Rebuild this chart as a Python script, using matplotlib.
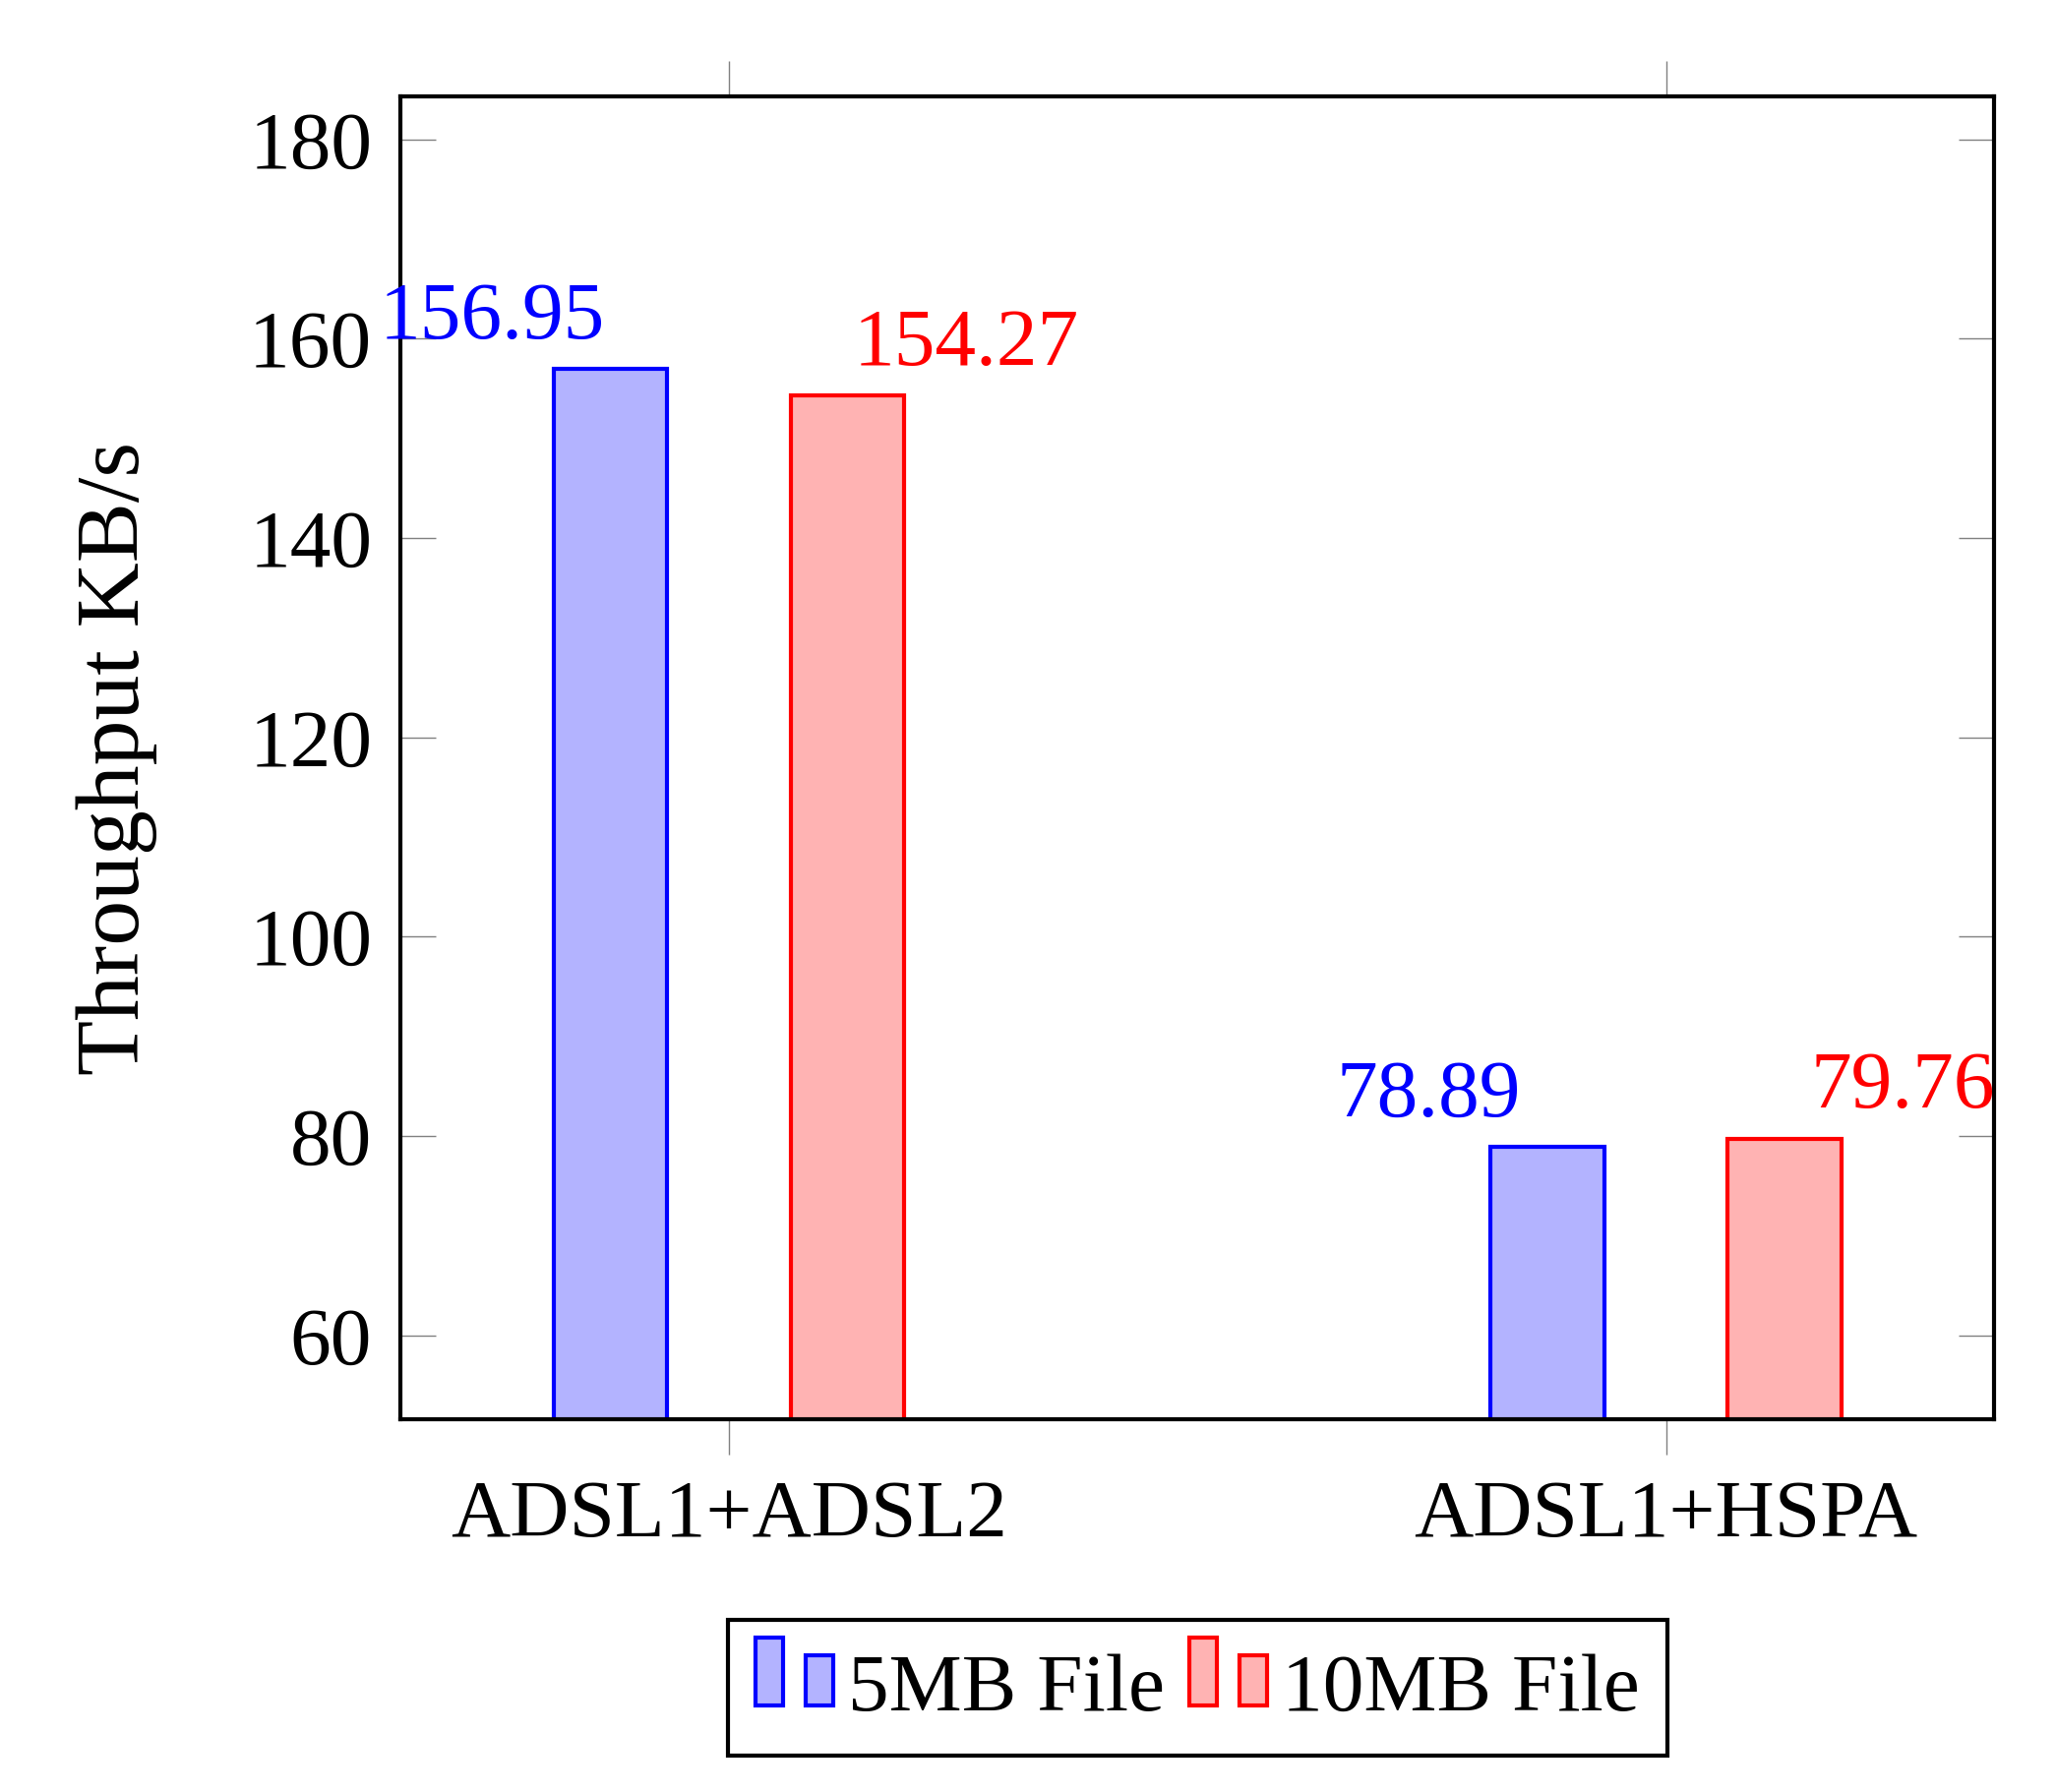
import matplotlib
matplotlib.use("Agg")
import matplotlib.pyplot as plt
from matplotlib.patches import Rectangle
from matplotlib.legend_handler import HandlerBase
import numpy as np

# ---- data ----
categories = ["ADSL1+ADSL2", "ADSL1+HSPA"]
series_names = ["5MB File", "10MB File"]
values_5mb = [156.95, 78.89]
values_10mb = [154.27, 79.76]
yticks = [60, 80, 100, 120, 140, 160, 180]

plt.rcParams['font.family'] = ['Liberation Serif', 'DejaVu Serif']
FS = 60

fig = plt.figure(figsize=(20.9, 18.22), dpi=100)
ax = fig.add_axes([0.1949, 0.2079, 0.7750, 0.7383])

x = np.arange(len(categories))
offset = 0.1265
width = 0.121
edge_colors = ["#0000FF", "#FF0000"]
face_colors = ["#B3B3FF", "#FFB3B3"]
all_vals = [values_5mb, values_10mb]
shifts = [-offset, offset]

containers = []
for vals, sh, ec, fc, name in zip(all_vals, shifts, edge_colors, face_colors, series_names):
    bc = ax.bar(x + sh, vals, width, bottom=0, facecolor=fc, edgecolor=ec,
                linewidth=3.0, label=name, zorder=2)
    containers.append(bc)
    # pgfplots-style labels (shifted by the bar offset once more)
    for xi, v in zip(x + 2 * sh, vals):
        ax.annotate(f"{v:.2f}", xy=(xi, v), xytext=(0, 22.5), textcoords="offset points",
                    ha="center", va="baseline", color=ec, fontsize=FS, zorder=5,
                    annotation_clip=False)

ax.set_xlim(-0.35, 1.35)
ax.set_ylim(51.58, 184.31)
ax.set_xticks(x)
ax.set_xticklabels(categories, fontsize=FS)
ax.set_yticks(yticks)
ax.set_yticklabels([str(t) for t in yticks], fontsize=FS)

ax.tick_params(axis="x", direction="out", length=26, width=1.0, color="#808080",
               top=True, bottom=True, labeltop=False, pad=18)
ax.tick_params(axis="y", direction="in", length=26, width=1.0, color="#808080",
               left=True, right=True, labelright=False, pad=21)
for sp in ax.spines.values():
    sp.set_linewidth(3.0)
    sp.set_color("black")
    sp.set_zorder(3)

ax.set_ylabel("Throughput KB/s", fontsize=66)
ax.yaxis.set_label_coords(-0.1527, 0.5)


class TwoBarHandler(HandlerBase):
    def create_artists(self, legend, orig_handle, xdescent, ydescent, width, height,
                       fontsize, trans):
        p = orig_handle.patches[0]
        fc = p.get_facecolor()
        ec = p.get_edgecolor()
        lw = p.get_linewidth()
        w = width * 0.355
        y0 = -ydescent + 0.12 * fontsize
        r1 = Rectangle((-xdescent, y0), w, height, facecolor=fc, edgecolor=ec,
                       linewidth=lw, transform=trans)
        r2 = Rectangle((-xdescent + width - w, y0), w, height * 0.75, facecolor=fc,
                       edgecolor=ec, linewidth=lw, transform=trans)
        return [r1, r2]


h = TwoBarHandler()
leg = fig.legend(handles=containers, labels=series_names,
                 handler_map={containers[0]: h, containers[1]: h},
                 loc="upper center", bbox_to_anchor=(0.5825, 0.0961),
                 bbox_transform=fig.transFigure, ncol=2, fontsize=FS,
                 handlelength=0.95, handleheight=0.9, handletextpad=0.18,
                 columnspacing=0.3, borderpad=0.34, borderaxespad=0,
                 fancybox=False, framealpha=1, edgecolor="black")
leg.get_frame().set_linewidth(3.0)

fig.savefig("out.png", dpi=100)
